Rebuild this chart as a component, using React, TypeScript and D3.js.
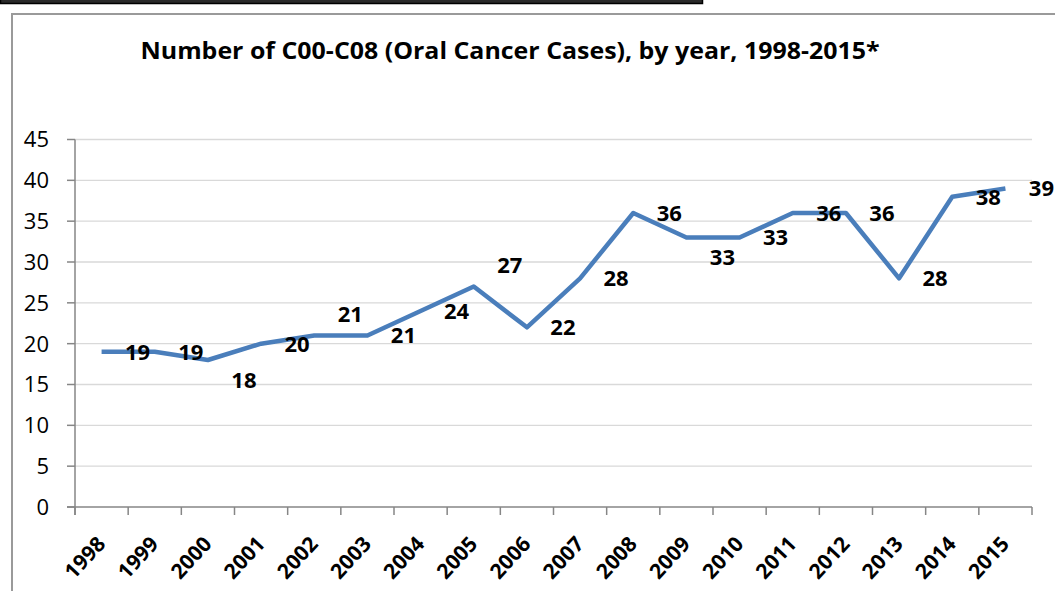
import React from "react";
import * as d3 from "d3";

const years = ["1998","1999","2000","2001","2002","2003","2004","2005","2006","2007","2008","2009","2010","2011","2012","2013","2014","2015"];
const cases = [19,19,18,20,21,21,24,27,22,28,36,33,33,36,36,28,38,39];
const labelPlacement = ["right","right","below","right","above","right","right","above","right","right","right","below","right","right","right","right","right","right"];
const yTicks = [0,5,10,15,20,25,30,35,40,45];
const title = "Number of C00-C08 (Oral Cancer Cases), by year, 1998-2015*";

const W = 1055, H = 591;
const FONT = "'Open Sans', Lato, sans-serif";

export default function App() {
  const x = d3.scaleBand<string>().domain(years).range([75, 1032]);
  const y = d3.scaleLinear().domain([0, 45]).range([507, 139.5]);
  const cx = (d: string) => (x(d) as number) + x.bandwidth() / 2;
  const line = d3.line<number>().x((_, i) => cx(years[i])).y((v) => y(v));
  const dyFor: Record<string, number> = { right: 0, above: -21, below: 20 };

  return (
    <svg width={W} height={H} style={{ position: "absolute", left: 0, top: 0, background: "#fff" }}>
      <rect x={0} y={0} width={W} height={H} fill="#fff" />
      {/* top black bar */}
      <rect x={0.5} y={-2} width={702} height={5.5} fill="#2a2a2a" stroke="#000" strokeWidth={1.5} />
      {/* frame */}
      <rect x={12} y={14} width={W + 20} height={H + 20} fill="none" stroke="#9a9a9a" strokeWidth={2} />
      {/* title */}
      <text x={510} y={59} textAnchor="middle" fontFamily={FONT} fontWeight="bold" fontSize={23.5} fill="#000"
        textLength={739} lengthAdjust="spacingAndGlyphs">{title}</text>
      {/* gridlines */}
      {yTicks.filter((t) => t > 0).map((t) => (
        <line key={"g" + t} x1={75} x2={1032} y1={y(t)} y2={y(t)} stroke="#d9d9d9" strokeWidth={1.3} />
      ))}
      {/* y axis */}
      <line x1={75} x2={75} y1={y(45)} y2={y(0) + 8} stroke="#868686" strokeWidth={1.5} />
      {yTicks.map((t) => (
        <g key={"y" + t}>
          <line x1={67} x2={75} y1={y(t)} y2={y(t)} stroke="#868686" strokeWidth={1.5} />
          <text x={49} y={y(t)} dy="0.36em" textAnchor="end" fontFamily={FONT} fontSize={22} fill="#000">{t}</text>
        </g>
      ))}
      {/* x axis */}
      <line x1={67} x2={1032} y1={y(0)} y2={y(0)} stroke="#868686" strokeWidth={1.5} />
      {[...years.map((d) => x(d) as number), 1032].map((px, i) => (
        <line key={"xt" + i} x1={px} x2={px} y1={y(0)} y2={y(0) + 8} stroke="#868686" strokeWidth={1.5} />
      ))}
      {years.map((d) => (
        <text key={"xl" + d} transform={`translate(${cx(d) + 5},${545}) rotate(-47)`} textAnchor="end"
          fontFamily={FONT} fontWeight="bold" fontSize={21} fill="#000">{d}</text>
      ))}
      {/* line */}
      <path d={line(cases) || ""} fill="none" stroke="#4a7ebb" strokeWidth={4.5} strokeLinejoin="round" />
      {/* data labels */}
      {cases.map((v, i) => (
        <text key={"dl" + i} x={cx(years[i]) + 36} y={y(v) + dyFor[labelPlacement[i]]} dy="0.36em" textAnchor="middle"
          fontFamily={FONT} fontWeight="bold" fontSize={22} fill="#000">{v}</text>
      ))}
    </svg>
  );
}
